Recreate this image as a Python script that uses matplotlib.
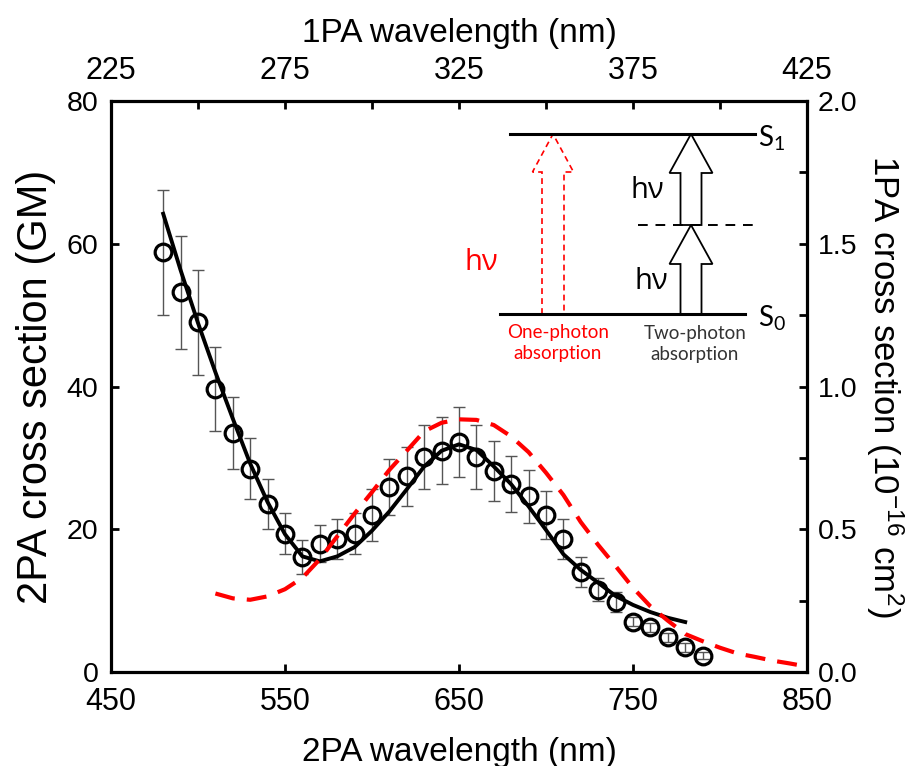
import numpy as np
import matplotlib
matplotlib.use("Agg")
import matplotlib.pyplot as plt
from matplotlib.patches import Polygon
from matplotlib.ticker import MultipleLocator, FormatStrFormatter

# ============================================================
# DATA
# ============================================================
# 2PA measurement, x in 2PA wavelength (nm), y in GM
wl_2pa = [480, 490, 500, 510, 520, 530, 540, 550, 560, 570, 580, 590,
          600, 610, 620, 630, 640, 650, 660, 670, 680, 690, 700, 710,
          720, 730, 740, 750, 760, 770, 780, 790]
sigma_2pa = [58.8, 53.2, 49.0, 39.6, 33.5, 28.5, 23.6, 19.4, 16.1, 18.0,
             18.7, 19.4, 22.0, 25.9, 27.4, 30.1, 31.0, 32.2, 30.1, 28.1,
             26.3, 24.6, 22.0, 18.7, 14.0, 11.5, 9.85, 7.05, 6.26, 4.86,
             3.46, 2.29]
sigma_2pa_err = [8.8, 7.9, 7.35, 5.9, 5.0, 4.3, 3.5, 2.9, 2.4, 2.6, 2.8,
                 2.9, 3.6, 3.9, 4.1, 4.5, 4.7, 4.9, 4.5, 4.2, 3.9, 3.7,
                 3.4, 2.8, 2.1, 1.6, 1.4, 0.6, 0.6, 0.6, 0.6, 0.5]

# calculated 2PA spectrum (solid black)
wl_fit = [480, 490, 500, 510, 520, 530, 540, 550, 560, 570, 580, 590,
          600, 610, 620, 630, 640, 650, 660, 670, 680, 690, 700, 710,
          720, 730, 740, 750, 760, 770, 780]
sigma_fit = [64.2, 56.3, 48.9, 42.0, 35.5, 29.2, 23.8, 19.3, 16.2, 15.5,
             16.2, 17.5, 19.8, 22.5, 25.6, 28.8, 31.0, 31.9, 31.1, 28.8,
             26.3, 23.2, 19.9, 16.5, 14.3, 12.5, 10.65, 9.4, 8.4, 7.6, 7.0]

# 1PA spectrum (red dashed), x in 1PA wavelength (nm), y in 1e-16 cm^2
wl_1pa = [255, 260, 265, 270, 275, 280, 285, 290, 295, 300, 305, 310,
          315, 320, 325, 330, 335, 340, 345, 350, 355, 360, 365, 370,
          375, 380, 385, 390, 395, 400, 405, 410, 415, 420, 425]
sigma_1pa = [0.275, 0.258, 0.253, 0.265, 0.290, 0.330, 0.395, 0.475,
             0.555, 0.630, 0.708, 0.775, 0.843, 0.873, 0.885, 0.883,
             0.865, 0.825, 0.770, 0.698, 0.620, 0.525, 0.445, 0.371,
             0.295, 0.230, 0.180, 0.133, 0.108, 0.085, 0.065, 0.053,
             0.040, 0.030, 0.019]

# ============================================================
# STYLE
# ============================================================
plt.rcParams["font.family"] = ["Liberation Sans", "DejaVu Sans"]
plt.rcParams["mathtext.default"] = "regular"
INSET = ["Lato", "Open Sans", "DejaVu Sans"]
GREEK = ["Open Sans", "DejaVu Sans"]

fig = plt.figure(figsize=(9.16, 7.66), dpi=100)
W, H = 916, 766
L, R, T, B = 111, 807, 101, 672
rect = [L / W, 1 - B / H, (R - L) / W, (B - T) / H]

ax = fig.add_axes(rect)
ax.set_xlim(450, 850)
ax.set_ylim(0, 80)

# top / right axes carry the 1PA scale
ax1 = fig.add_axes(rect, frameon=False)
ax1.set_xlim(225, 425)
ax1.set_ylim(0, 2.0)
ax1.xaxis.tick_top()
ax1.yaxis.tick_right()
ax1.xaxis.set_label_position("top")
ax1.yaxis.set_label_position("right")
ax1.patch.set_visible(False)

for s in ax.spines.values():
    s.set_linewidth(2.3)

# ============================================================
# PLOTS
# ============================================================
ax.errorbar(wl_2pa, sigma_2pa, yerr=sigma_2pa_err, fmt="none",
            ecolor="#555555", elinewidth=1.0, capsize=4.5, capthick=1.0,
            zorder=2)
ax.plot(wl_2pa, sigma_2pa, "o", ms=12, mfc="none", mec="black",
        mew=2.3, zorder=3)
ax.plot(wl_fit, sigma_fit, "-", color="black", lw=2.8, zorder=4)
ax1.plot(wl_1pa, sigma_1pa, color="#ff0000", lw=3.0,
         linestyle=(0, (4.8, 2.9)), zorder=5)

# ticks
ax.xaxis.set_major_locator(MultipleLocator(100, offset=50))
ax.yaxis.set_major_locator(MultipleLocator(20))
ax.tick_params(axis="both", which="major", direction="in", length=6,
               width=2.0, top=False, right=False)
ax.tick_params(axis="x", pad=11, labelsize=22)
ax.tick_params(axis="y", pad=9, labelsize=20.5)

ax1.xaxis.set_major_locator(MultipleLocator(50, offset=25))
ax1.xaxis.set_minor_locator(MultipleLocator(25))
ax1.yaxis.set_major_locator(MultipleLocator(0.5))
ax1.yaxis.set_minor_locator(MultipleLocator(0.25))
ax1.yaxis.set_major_formatter(FormatStrFormatter("%.1f"))
ax1.tick_params(axis="both", which="both", direction="in", length=6,
                width=2.0, bottom=False, left=False)
ax1.tick_params(axis="x", which="major", pad=11, labelsize=22)
ax1.tick_params(axis="y", which="major", pad=8, labelsize=20.5)

ax.set_xlabel("2PA wavelength (nm)", fontsize=24, labelpad=14)
ax.set_ylabel("2PA cross section (GM)", fontsize=30, labelpad=8)
ax1.set_xlabel("1PA wavelength (nm)", fontsize=24, labelpad=10)
ax1.set_ylabel("1PA cross section (10$^{-16}$ cm$^{2}$)", fontsize=25,
               rotation=270, labelpad=34)

# ============================================================
# INSET: energy level diagram (positions in picture pixels -> axes fraction)
# ============================================================
def fx(px):
    return (px - L) / (R - L)


def fy(py):
    return (B - py) / (B - T)


tr = ax.transAxes


def hollow_arrow(xc, y0, y1, shaft, head, head_len, **kw):
    pts = [(xc - shaft, y0), (xc - shaft, y1 + head_len),
           (xc - head, y1 + head_len), (xc, y1),
           (xc + head, y1 + head_len), (xc + shaft, y1 + head_len),
           (xc + shaft, y0)]
    poly = Polygon([(fx(a), fy(b)) for a, b in pts], closed=True,
                   fill=False, transform=tr, clip_on=False, **kw)
    ax.add_patch(poly)


y_s1, y_s0, y_mid = 134, 314, 225
hollow_arrow(691, y_s0, y_mid, 10.5, 21.5, 39, edgecolor="black", lw=1.3,
             zorder=6)
hollow_arrow(691, y_mid, y_s1, 10.5, 21.5, 39, edgecolor="black", lw=1.3,
             zorder=6)
hollow_arrow(553, y_s0, y_s1, 11, 20.5, 38, edgecolor="#ff0000", lw=1.2,
             linestyle=(0, (3.5, 2.5)), zorder=6)

ax.plot([fx(510), fx(755)], [fy(y_s1), fy(y_s1)], color="black", lw=2.2,
        transform=tr, zorder=7)
ax.plot([fx(500), fx(745)], [fy(y_s0), fy(y_s0)], color="black", lw=2.2,
        transform=tr, zorder=7)
ax.plot([fx(638), fx(755)], [fy(y_mid), fy(y_mid)], color="black", lw=1.4,
        linestyle=(0, (5, 4)), transform=tr, zorder=7)

ax.text(fx(758), fy(138), "S$_1$", transform=tr, fontsize=20,
        ha="left", va="center", family=INSET)
ax.text(fx(758), fy(318), "S$_0$", transform=tr, fontsize=20,
        ha="left", va="center", family=INSET)
ax.text(fx(481), fy(262), "hν", transform=tr, fontsize=21, color="#ff0000",
        ha="center", va="center", family=GREEK)
ax.text(fx(647), fy(191), "hν", transform=tr, fontsize=21, color="black",
        ha="center", va="center", family=GREEK)
ax.text(fx(651), fy(281), "hν", transform=tr, fontsize=21, color="black",
        ha="center", va="center", family=GREEK)
ax.text(fx(558), fy(343), "One-photon\nabsorption", transform=tr,
        fontsize=13.5, color="#ff0000", ha="center", va="center",
        linespacing=1.35, family=INSET)
ax.text(fx(695), fy(344), "Two-photon\nabsorption", transform=tr,
        fontsize=13.5, color="#333333", ha="center", va="center",
        linespacing=1.35, family=INSET)

plt.savefig("out.png", dpi=100)
